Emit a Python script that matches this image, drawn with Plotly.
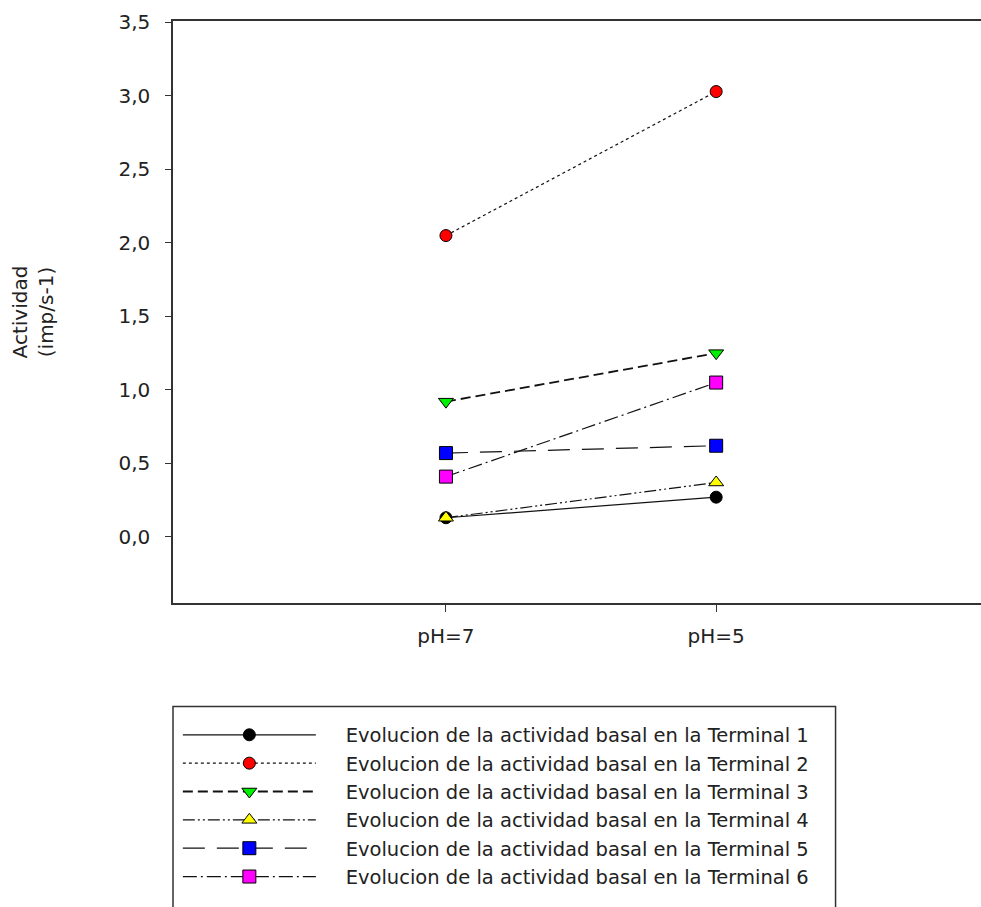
import plotly.graph_objects as go

categories = ["pH=7", "pH=5"]
names = [
    "Evolucion de la actividad basal en la Terminal 1",
    "Evolucion de la actividad basal en la Terminal 2",
    "Evolucion de la actividad basal en la Terminal 3",
    "Evolucion de la actividad basal en la Terminal 4",
    "Evolucion de la actividad basal en la Terminal 5",
    "Evolucion de la actividad basal en la Terminal 6",
]
t1 = [0.13, 0.27]
t2 = [2.05, 3.03]
t3 = [0.92, 1.25]
t4 = [0.13, 0.37]
t5 = [0.57, 0.62]
t6 = [0.41, 1.05]
series = [t1, t2, t3, t4, t5, t6]

colors = ["#000000", "#ff0000", "#00ee00", "#ffff00", "#0000ff", "#ff00ff"]
symbols = ["circle", "circle", "triangle-down", "triangle-up", "square", "square"]
dashes = ["solid", "dot", "10px,5px", "12px,3px,2px,3px,2px,3px", "22px,12px", "14px,4px,2px,4px"]
widths = [1.2, 1.2, 1.8, 1.2, 1.2, 1.2]
sizes = [12, 12, 13, 13, 13, 13]

FONT = "DejaVu Sans, Liberation Sans, Arial, sans-serif"
pad = "\u00a0\u00a0\u00a0\u00a0"

xpos = [1, 2]
fig = go.Figure()
for name, vals, c, s, d, w, sz in zip(names, series, colors, symbols, dashes, widths, sizes):
    fig.add_trace(go.Scatter(
        x=xpos, y=vals, name=pad + name, mode="lines+markers",
        line=dict(color="#111111", width=w, dash=d),
        marker=dict(symbol=s, size=sz, color=c, line=dict(color="#000000", width=1)),
    ))

# legend frame
fig.add_shape(type="rect", xref="paper", yref="paper",
              x0=0.0, x1=0.82, y0=-0.178, y1=-0.53,
              line=dict(color="#333333", width=1.5), fillcolor="rgba(0,0,0,0)", layer="below")

fig.update_layout(
    width=981, height=907,
    margin=dict(l=173, r=0, t=21, b=304),
    paper_bgcolor="white", plot_bgcolor="white",
    font=dict(family=FONT, size=20, color="#222222"),
    showlegend=True,
    legend=dict(
        x=0.006, y=-0.1935, xanchor="left", yanchor="top",
        borderwidth=0, bgcolor="rgba(0,0,0,0)",
        font=dict(size=19.5, color="#222222", family=FONT),
        itemwidth=133,
        tracegroupgap=0,
    ),
    xaxis=dict(
        range=[-0.01, 2.98], tickmode="array", tickvals=xpos, ticktext=categories,
        showline=True, linecolor="#333333", linewidth=1.5, mirror=True,
        ticks="outside", ticklen=7, tickcolor="#333333", showgrid=False, zeroline=False,
        ticklabelstandoff=7, tickfont=dict(size=20),
    ),
    yaxis=dict(
        range=[-0.45, 3.51], tickmode="array",
        tickvals=[0, 0.5, 1.0, 1.5, 2.0, 2.5, 3.0, 3.5],
        ticktext=["0,0", "0,5", "1,0", "1,5", "2,0", "2,5", "3,0", "3,5"],
        showline=True, linecolor="#333333", linewidth=1.5,
        ticks="outside", ticklen=6, tickcolor="#333333", showgrid=False, zeroline=False,
        ticklabelstandoff=11, tickfont=dict(size=20),
        title=dict(text="Actividad<br>(imp/s-1)", standoff=59, font=dict(size=20)),
    ),
)

fig.write_html("out.html")
